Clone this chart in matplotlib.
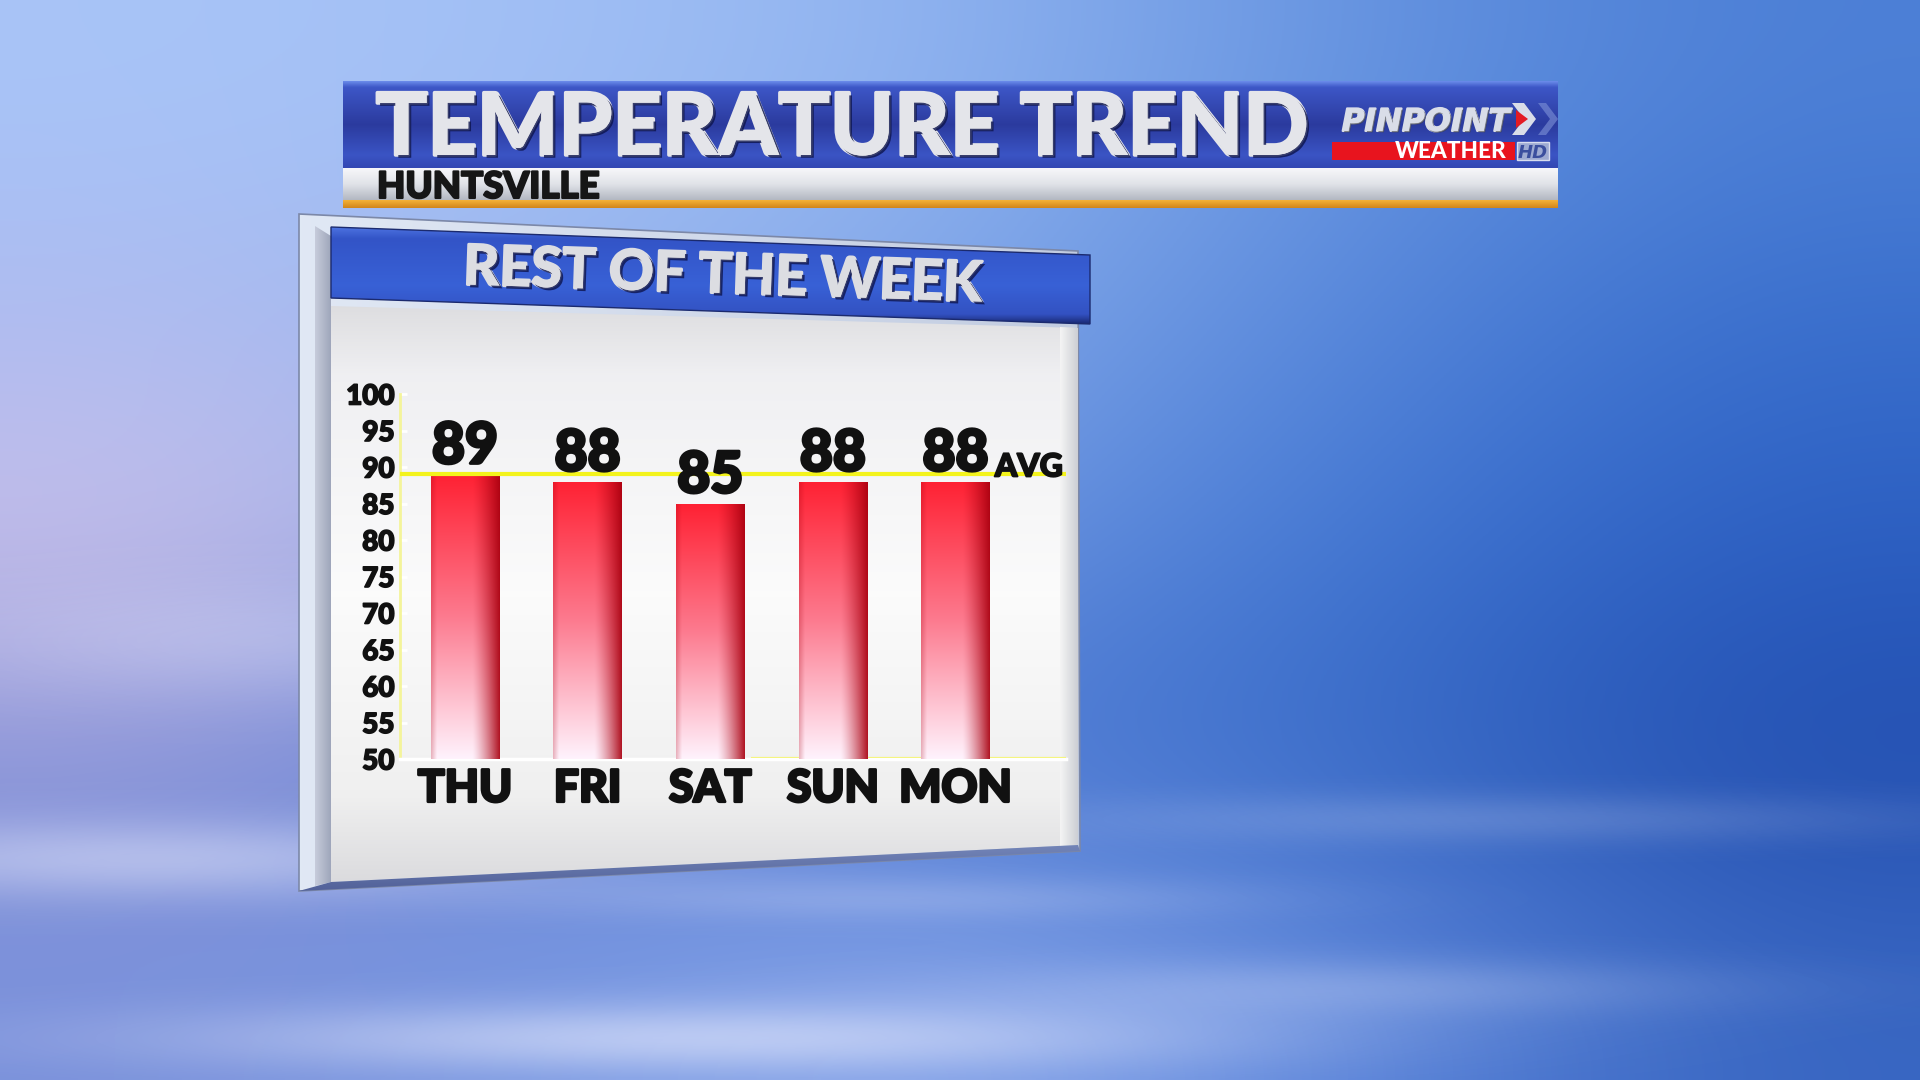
import numpy as np
import matplotlib
matplotlib.use("Agg")
import matplotlib.pyplot as plt
from matplotlib.patches import Polygon, Rectangle
import matplotlib.patheffects as pe

days = ["THU", "FRI", "SAT", "SUN", "MON"]
highs = [89, 88, 85, 88, 88]
avg_high = 89
y_ticks = [50, 55, 60, 65, 70, 75, 80, 85, 90, 95, 100]

W, H = 1920, 1080
FONT = ["Lato", "DejaVu Sans"]

fig = plt.figure(figsize=(19.2, 10.8), dpi=100)

# pixel-space layer for the sky and the TV panel decorations
bg = fig.add_axes([0, 0, 1, 1])
bg.set_xlim(0, W)
bg.set_ylim(H, 0)
bg.axis("off")


def ramp(stops, n=256):
    pos = np.array([s[0] for s in stops])
    cols = np.array([s[1] for s in stops])
    t = np.linspace(0, 1, n)
    return np.stack([np.interp(t, pos, cols[:, k]) for k in range(3)], axis=-1)


def grad_fill(pts, stops, vertical=True, zorder=1, edge=None, lw=0):
    xs = [p[0] for p in pts]
    ys = [p[1] for p in pts]
    poly = Polygon(pts, closed=True, facecolor="none", edgecolor=edge or "none",
                   lw=lw, zorder=zorder + 0.1)
    bg.add_patch(poly)
    c = ramp(stops)
    img = c[:, None, :] if vertical else c[None, :, :]
    im = bg.imshow(img, extent=(min(xs), max(xs), max(ys), min(ys)),
                   origin="upper", aspect="auto", interpolation="bilinear", zorder=zorder)
    im.set_clip_path(poly)
    return poly


def heavy(color, w=2.0):
    return [pe.Stroke(linewidth=w, foreground=color), pe.Normal()]


# sky
sky = np.array([
    [(.66, .77, .97), (.63, .75, .96), (.56, .70, .94), (.40, .58, .88), (.30, .50, .84)],
    [(.68, .73, .94), (.60, .71, .93), (.50, .65, .91), (.34, .53, .86), (.22, .43, .80)],
    [(.80, .76, .92), (.62, .68, .90), (.42, .58, .88), (.26, .47, .83), (.17, .37, .76)],
    [(.55, .58, .84), (.36, .48, .82), (.28, .46, .82), (.22, .42, .78), (.13, .30, .68)],
    [(.48, .57, .86), (.47, .60, .89), (.55, .66, .92), (.38, .54, .87), (.22, .40, .76)],
])
bg.imshow(sky, extent=(0, W, H, 0), origin="upper", aspect="auto",
          interpolation="bicubic", zorder=0)

# soft cloud streaks (lighter wisps low on the frame)
gx, gy = np.meshgrid(np.linspace(0, W, 480), np.linspace(0, H, 270))
wisps = [(150, 860, 420, 40, 0.45), (700, 1040, 520, 35, 0.55), (1350, 990, 380, 30, 0.25),
         (250, 640, 300, 60, 0.25), (1500, 820, 420, 25, 0.18), (900, 900, 350, 22, 0.20)]
alpha = np.zeros_like(gx)
for cx, cy, sx, sy, a in wisps:
    alpha += a * np.exp(-(((gx - cx) / sx) ** 2 + ((gy - cy) / sy) ** 2))
cloud = np.zeros(gx.shape + (4,))
cloud[..., :3] = (0.93, 0.94, 1.0)
cloud[..., 3] = np.clip(alpha, 0, 0.7)
bg.imshow(cloud, extent=(0, W, H, 0), origin="upper", aspect="auto",
          interpolation="bilinear", zorder=0.5)

# --- top banner ---
grad_fill([(343, 81), (1558, 81), (1558, 168), (343, 168)],
          [(0, (.42, .55, .92)), (.07, (.24, .34, .78)), (.5, (.17, .23, .62)),
           (.85, (.23, .33, .77)), (1, (.20, .28, .70))], zorder=2)
grad_fill([(343, 168), (1558, 168), (1558, 200), (343, 200)],
          [(0, (.97, .97, .98)), (.5, (.88, .89, .91)), (1, (.70, .72, .76))], zorder=2)
grad_fill([(343, 200), (1558, 200), (1558, 208), (343, 208)],
          [(0, (.96, .70, .22)), (1, (.82, .52, .10))], zorder=2)

shadow = [pe.Stroke(linewidth=2.5, foreground="#e4e5ea"),
          pe.withSimplePatchShadow(offset=(2, -2), shadow_rgbFace=(0.05, 0.08, 0.3), alpha=0.8),
          pe.Normal()]
title = bg.text(376, 155, "TEMPERATURE TREND", color="#e4e5ea", fontsize=60,
                family=FONT, weight="black", ha="left", va="baseline", zorder=5,
                path_effects=shadow)
city = bg.text(377, 198, "HUNTSVILLE", color="#161616", fontsize=22,
               family=FONT, weight="black", ha="left", va="baseline", zorder=5,
               path_effects=heavy("#161616", 1.5))

# logo
logo = bg.text(1342, 131, "PINPOINT", color="#d9dde8", fontsize=34,
               family=["Liberation Sans Narrow", "DejaVu Sans"], weight="bold",
               style="italic", ha="left", va="baseline", zorder=5,
               path_effects=[pe.Stroke(linewidth=1.5, foreground="#d9dde8"),
                             pe.withSimplePatchShadow(offset=(1, -1), alpha=0.6),
                             pe.Normal()])
bg.add_patch(Polygon([(1512, 103), (1524, 103), (1536, 119), (1524, 135), (1512, 135), (1524, 119)],
                     closed=True, facecolor="#d9dde8", edgecolor="none", zorder=5))
bg.add_patch(Polygon([(1516, 110), (1528, 119), (1516, 128)], closed=True,
                     facecolor="#e31b23", edgecolor="none", zorder=6))
bg.add_patch(Polygon([(1538, 103), (1546, 103), (1558, 119), (1546, 135), (1538, 135), (1550, 119)],
                     closed=True, facecolor="#7f93d8", edgecolor="none", alpha=0.6, zorder=5))
bg.add_patch(Rectangle((1332, 142), 183, 18, facecolor="#e8141e", edgecolor="none", zorder=5))
weather = bg.text(1507, 158, "WEATHER", color="white", fontsize=17, family=FONT, weight="black",
                  ha="right", va="baseline", zorder=6)
bg.add_patch(Rectangle((1517, 142), 32, 18, facecolor="#9eabd2", edgecolor="#d8ddee",
                       lw=1, zorder=5))
bg.text(1533, 158, "HD", color="#3b4f9e", fontsize=13, family="DejaVu Sans", weight="bold",
        style="italic", ha="center", va="baseline", zorder=6)

# --- chart panel ---
grad_fill([(299, 214), (1078, 251), (1080, 851), (299, 891)],
          [(0, (.88, .91, .96)), (1, (.76, .80, .88))], vertical=False, zorder=2,
          edge="#7c88a8", lw=1.2)
grad_fill([(315, 226), (331, 236), (331, 882), (315, 886)],
          [(0, (.78, .80, .86)), (1, (.62, .65, .73))], vertical=False, zorder=2.2)
grad_fill([(331, 306), (1078, 328), (1078, 845), (331, 882)],
          [(0, (.87, .87, .88)), (.12, (.94, .94, .95)), (.5, (.985, .985, .985)),
           (.85, (.94, .94, .94)), (1, (.86, .86, .87))], zorder=2.4)
grad_fill([(1060, 327), (1078, 328), (1078, 845), (1060, 846)],
          [(0, (.96, .96, .96)), (1, (.80, .81, .83))], vertical=False, zorder=2.5)
grad_fill([(331, 882), (1078, 845), (1080, 851), (299, 891)],
          [(0, (.45, .52, .72)), (1, (.32, .38, .60))], zorder=2.5)
grad_fill([(331, 227), (1090, 255), (1090, 324), (331, 298)],
          [(0, (.30, .45, .88)), (.12, (.20, .33, .78)), (.6, (.22, .38, .84)),
           (.9, (.20, .32, .76)), (1, (.10, .16, .45))], zorder=3, edge="#1b2a6e", lw=1)

band_fx = [pe.Stroke(linewidth=2, foreground="#dcdde2"),
           pe.withSimplePatchShadow(offset=(2, -2), shadow_rgbFace=(0.05, 0.08, 0.3), alpha=0.8),
           pe.Normal()]
band = bg.text(723, 277, "REST OF THE WEEK", color="#dcdde2", fontsize=42, family=FONT,
               weight="black", ha="center", va="center", rotation=-1.9, zorder=5,
               rotation_mode="anchor", path_effects=band_fx)

# fit the header texts to the widths measured on the reference
renderer = fig.canvas.get_renderer()
for txt, target in [(title, 934), (city, 223), (band, 520), (logo, 168), (weather, 112)]:
    w = txt.get_window_extent(renderer).width
    txt.set_fontsize(txt.get_fontsize() * target / w)

# --- bar chart ---
ax = fig.add_axes([400 / W, 321 / H, 666 / W, 365 / H], zorder=3)
ax.patch.set_alpha(0)
x = np.arange(len(days))
base = y_ticks[0]
bars = ax.bar(x, [h - base for h in highs], bottom=base, width=0.56,
              color="none", edgecolor="none", zorder=3)

# cylinder-like shading: red top fading to white at the floor, dark right edge
t = np.linspace(1, 0, 200)[:, None]
u = np.linspace(0, 1, 60)[None, :]
top_c = np.array([1.0, 0.13, 0.20])
mid_c = np.array([0.99, 0.48, 0.56])
low_c = np.array([1.0, 0.95, 0.99])
w1 = np.clip((t - 0.5) / 0.5, 0, 1)[..., None]
w0 = np.clip(t / 0.5, 0, 1)[..., None]
vert = np.where(t[..., None] > 0.5, mid_c * (1 - w1) + top_c * w1, low_c * (1 - w0) + mid_c * w0)
dark = np.array([0.66, 0.0, 0.06])
d = (np.clip((u - 0.6) / 0.4, 0, 1) ** 1.3 * 0.9 + np.clip((0.08 - u) / 0.08, 0, 1) * 0.25)[..., None]
shade = vert * (1 - d) + dark * d
shade = np.broadcast_to(shade, (200, 60, 3))

for b in bars:
    im = ax.imshow(shade, extent=(b.get_x(), b.get_x() + b.get_width(),
                                  b.get_y(), b.get_y() + b.get_height()),
                   origin="upper", aspect="auto", interpolation="bilinear", zorder=3)
    im.set_clip_path(b)

for xi, h in zip(x, highs):
    ax.text(xi, h + 1.5, str(h), ha="center", va="baseline", fontsize=41,
            family=FONT, weight="black", color="#111111", zorder=5,
            path_effects=heavy("#111111", 2.2))

ax.axhline(avg_high, color="#f3f31c", lw=3, zorder=4)
ax.axhline(base, xmin=0.53, color="#f3f35a", lw=3, zorder=2)
ax.text(4.32, avg_high - 0.3, "AVG", ha="left", va="baseline", fontsize=23,
        family=FONT, weight="black", color="#111111", zorder=5,
        path_effects=heavy("#111111", 1.3))

ax.set_xlim(-0.53, 4.9)
ax.set_ylim(base, 100)
ax.set_yticks(y_ticks)
ax.set_yticklabels([str(v) for v in y_ticks], fontsize=20, family=FONT,
                   weight="black", color="#111111")
ax.set_xticks(x)
ax.set_xticklabels(days, fontsize=32, family=FONT, weight="black", color="#111111")
for lab in ax.get_yticklabels():
    lab.set_path_effects(heavy("#111111", 1.2))
for lab in ax.get_xticklabels():
    lab.set_path_effects(heavy("#111111", 2.0))
ax.tick_params(axis="y", direction="in", length=5, width=2, color="white", pad=4)
ax.tick_params(axis="x", length=0, pad=7)
for s in ["top", "right"]:
    ax.spines[s].set_visible(False)
ax.spines["left"].set_color("#f4f49a")
ax.spines["left"].set_linewidth(2)
ax.spines["bottom"].set_color("white")
ax.spines["bottom"].set_linewidth(2.5)

fig.savefig("out.png", dpi=100)
